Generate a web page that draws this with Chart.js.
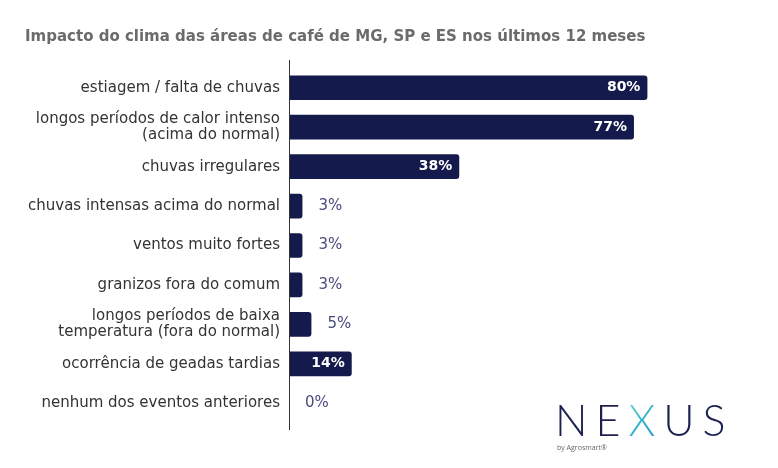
<!DOCTYPE html>
<html>
<head>
<meta charset="utf-8">
<script src="https://cdn.jsdelivr.net/npm/chart.js@4"></script>
<style>
  html, body { margin: 0; padding: 0; background: #fff; }
  #wrap { position: relative; width: 778px; height: 468px; }
  #logo { position: absolute; left: 555px; top: 398px; font-family: Lato, "Open Sans", sans-serif; }
  #logo .word { font-size: 43px; font-weight: 300; letter-spacing: 8px; color: #1c2050; line-height: 44px; }
  #logo .x { background: linear-gradient(135deg, #7fe0c4 0%, #2fb3c9 50%, #2a8fd0 100%); -webkit-background-clip: text; background-clip: text; color: transparent; }
  #logo .by { font-size: 7px; color: #666; margin-top: 1px; margin-left: 2px; font-family: "Open Sans", sans-serif; }
</style>
</head>
<body>
<div id="wrap">
  <canvas id="chart" width="778" height="468"></canvas>
  <div id="logo"><div class="word">NE<span class="x">X</span>US</div><div class="by">by Agrosmart®</div></div>
</div>
<script>
// categorias e valores (%)
const categories = [
  "estiagem / falta de chuvas",
  ["longos períodos de calor intenso", "(acima do normal)"],
  "chuvas irregulares",
  "chuvas intensas acima do normal",
  "ventos muito fortes",
  "granizos fora do comum",
  ["longos períodos de baixa", "temperatura (fora do normal)"],
  "ocorrência de geadas tardias",
  "nenhum dos eventos anteriores"
];
const values = [80, 77, 38, 3, 3, 3, 5, 14, 0];

const barColor = "#141a4b";

// rótulos de valor (dentro da barra se grande, fora se pequeno)
const valueLabels = {
  id: "valueLabels",
  afterDatasetsDraw(chart) {
    const ctx = chart.ctx;
    const meta = chart.getDatasetMeta(0);
    ctx.save();
    ctx.textBaseline = "middle";
    meta.data.forEach((bar, i) => {
      const v = values[i];
      const txt = v + "%";
      if (v >= 10) {
        ctx.font = "bold 14px 'DejaVu Sans', sans-serif";
        ctx.fillStyle = "#ffffff";
        ctx.textAlign = "right";
        ctx.fillText(txt, bar.x - 7, bar.y);
      } else {
        ctx.font = "15px 'DejaVu Sans', sans-serif";
        ctx.fillStyle = "#4a4a7c";
        ctx.textAlign = "left";
        ctx.fillText(txt, bar.x + 16, bar.y);
      }
    });
    ctx.restore();
  }
};

// linha do eixo vertical
const axisLine = {
  id: "axisLine",
  afterDatasetsDraw(chart) {
    const { ctx, chartArea } = chart;
    ctx.save();
    ctx.strokeStyle = "#333";
    ctx.lineWidth = 1;
    ctx.beginPath();
    ctx.moveTo(chartArea.left + 0.5, chartArea.top - 8);
    ctx.lineTo(chartArea.left + 0.5, chartArea.bottom + 7);
    ctx.stroke();
    ctx.restore();
  }
};

new Chart(document.getElementById("chart").getContext("2d"), {
  type: "bar",
  data: {
    labels: categories,
    datasets: [{
      data: values,
      backgroundColor: barColor,
      borderRadius: 3,
      borderSkipped: "start",
      barPercentage: 0.68,
      categoryPercentage: 0.92
    }]
  },
  options: {
    indexAxis: "y",
    responsive: false,
    animation: false,
    layout: { padding: { left: 25, right: 41, top: 0, bottom: 45 } },
    plugins: {
      legend: { display: false },
      tooltip: { enabled: false },
      title: {
        display: true,
        text: "Impacto do clima das áreas de café de MG, SP e ES nos últimos 12 meses",
        align: "start",
        color: "#6b6b6b",
        font: { family: "'DejaVu Sans', sans-serif", size: 15, weight: "bold" },
        padding: { top: 28, bottom: 22 }
      }
    },
    scales: {
      x: { display: false, min: 0, max: 100 },
      y: {
        grid: { display: false, drawTicks: false },
        border: { display: false },
        ticks: {
          color: "#333",
          padding: 9,
          font: { family: "'DejaVu Sans', sans-serif", size: 15, lineHeight: 1.05 }
        },
        afterFit(scale) { scale.width = 264; }
      }
    }
  },
  plugins: [valueLabels, axisLine]
});
</script>
</body>
</html>
